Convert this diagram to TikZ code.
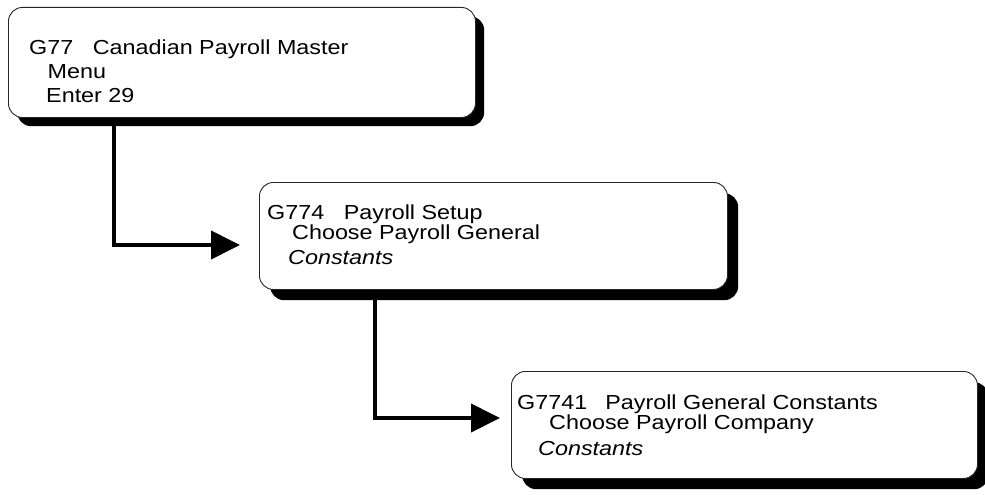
\documentclass[tikz,border=0pt]{standalone}
\usepackage{fontspec}
\setmainfont{Liberation Sans}[FakeStretch=1.15]
\usetikzlibrary{arrows.meta}
\begin{document}
\begin{tikzpicture}[x=1pt,y=-1pt,
  menubox/.style={draw=black!85, line width=0.9pt, fill=white, rounded corners=14pt,
    anchor=north west, inner sep=0pt},
  shadowbox/.style={fill=black, rounded corners=14pt, anchor=north west, inner sep=0pt},
  conn/.style={line width=4pt, shorten <=-2pt, -{Triangle[length=29pt,width=28pt]}},
  txt/.style={anchor=base west, inner sep=0pt, font=\fontsize{20.3}{23}\selectfont}]
\useasboundingbox (0,0) rectangle (985,495);

% menu boxes with their drop shadows
\node[shadowbox, minimum width=467pt, minimum height=110pt] (b1s) at (17,16) {};
\node[menubox,  minimum width=467pt, minimum height=110pt] (b1) at (8,7) {};

\node[shadowbox, minimum width=468pt, minimum height=107pt] (b2s) at (270,193) {};
\node[menubox,  minimum width=468pt, minimum height=107pt] (b2) at (259,182) {};

\node[shadowbox, minimum width=466pt, minimum height=107pt] (b3s) at (522,382) {};
\node[menubox,  minimum width=466pt, minimum height=107pt] (b3) at (511,371) {};

% menu texts
\node[txt] (t1a) at (29,55)   {G77\hspace{19.5pt}Canadian Payroll Master};
\node[txt] (t1b) at (47.5,78) {Menu};
\node[txt] (t1c) at (46,102)  {Enter 29};

\node[txt] (t2a) at (267,219) {G774\hspace{19.5pt}Payroll Setup};
\node[txt] (t2b) at (292,239) {Choose Payroll General};
\node[txt] (t2c) at (288,264) {\itshape Constants};

\node[txt] (t3a) at (517,409) {G7741\hspace{18pt}Payroll General Constants};
\node[txt] (t3b) at (549,429) {Choose Payroll Company};
\node[txt] (t3c) at (538,455) {\itshape Constants};

% connectors
\coordinate (k1) at (114,0);
\coordinate (a1) at (240,245);
\draw[conn] (b1s.south -| k1) |- (a1);

\coordinate (k2) at (375,0);
\coordinate (a2) at (500,418);
\draw[conn] (b2s.south -| k2) |- (a2);
\end{tikzpicture}
\end{document}
